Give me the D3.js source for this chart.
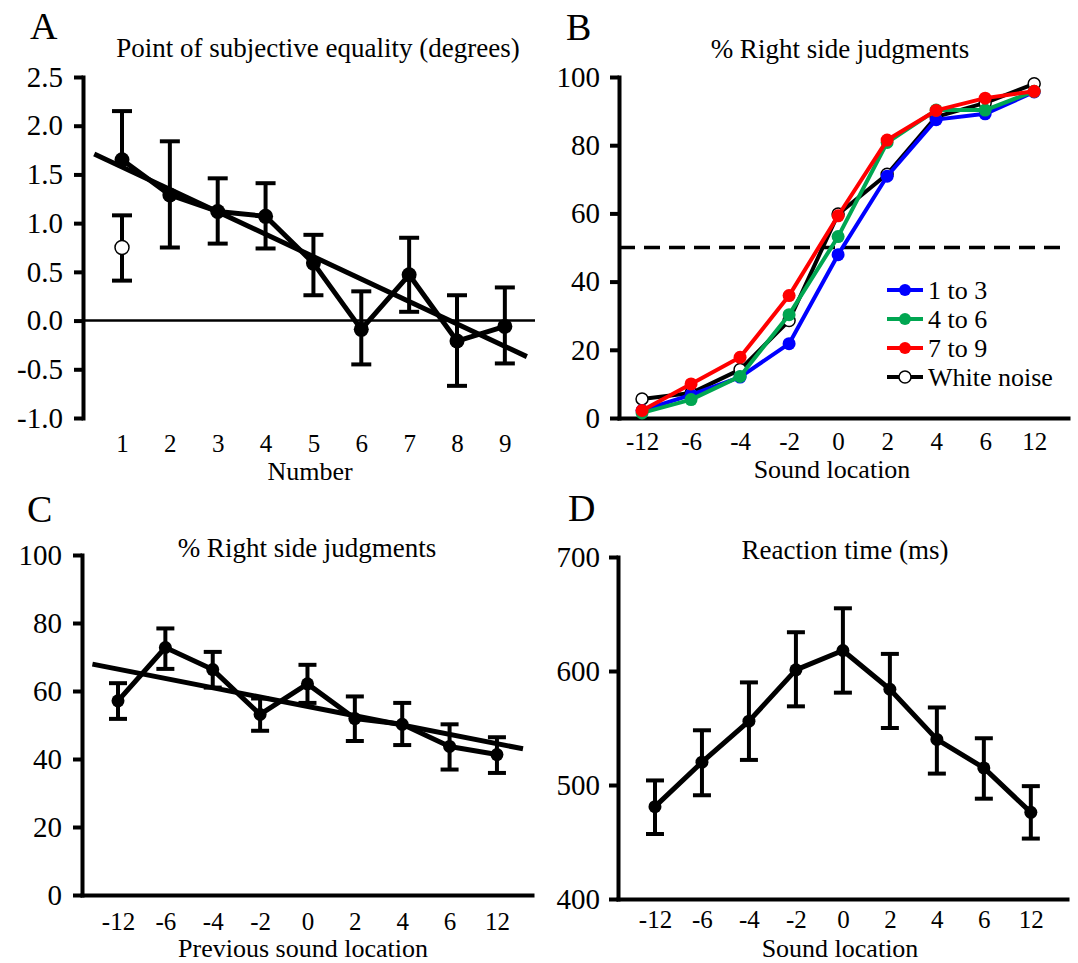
<!DOCTYPE html>
<html>
<head>
<meta charset="utf-8">
<script src="https://cdn.jsdelivr.net/npm/d3@7"></script>
</head>
<body style="margin:0;background:#fff">
<svg id="fig" width="1078" height="963"></svg>
<script>
// ---------- data ----------
// A: point of subjective equality by number
const numbers = [1, 2, 3, 4, 5, 6, 7, 8, 9];
const pseMean = [1.65, 1.29, 1.12, 1.07, 0.59, -0.09, 0.47, -0.21, -0.06];
const pseHi   = [2.15, 1.84, 1.46, 1.41, 0.88, 0.30, 0.85, 0.26, 0.34];
const pseLo   = [null, 0.75, 0.79, 0.74, 0.26, -0.45, 0.09, -0.67, -0.44];
const noiseX = [1], noiseMean = [0.75], noiseHi = [1.08], noiseLo = [0.41];
const pseFitX = [0.42, 9.46], pseFitY = [1.71, -0.37];
const pseTicks = [-1, -0.5, 0, 0.5, 1, 1.5, 2, 2.5];

// B: % right side judgments by sound location
const locations = ["-12", "-6", "-4", "-2", "0", "2", "4", "6", "12"];
const seriesNames  = ["1 to 3", "4 to 6", "7 to 9", "White noise"];
const seriesColors = ["#0000ff", "#00a651", "#ff0000", "#000000"];
const right1to3  = [2.2, 6.8, 12, 21.8, 47.9, 70.9, 87.5, 89.2, 95.6];
const right4to6  = [1.5, 5.4, 12.2, 30.3, 53.2, 80.8, 90.3, 90.3, 95.8];
const right7to9  = [2.2, 10, 17.8, 35.9, 59.3, 81.5, 90.2, 93.8, 95.8];
const rightNoise = [5.6, 7.3, 14.2, 28.6, 59.8, 71.5, 88.3, 92.4, 98];
const pctTicks = [0, 20, 40, 60, 80, 100];

// C: % right side judgments by previous sound location
const prevMean = [57.1, 72.8, 66.3, 53.1, 62.1, 51.9, 50.2, 43.7, 41.3];
const prevHi   = [62.3, 78.4, 71.5, 57.8, 67.7, 58.4, 56.5, 50.2, 46.4];
const prevLo   = [51.8, 66.5, 61.0, 48.3, 56.5, 45.3, 44.1, 36.9, 35.9];
const prevFitX = [-0.54, 8.55], prevFitY = [67.9, 43.0];

// D: reaction time by sound location
const rtMean = [481, 520, 556, 601, 618, 584, 540, 515, 476];
const rtHi   = [504, 548, 590, 634, 655, 615, 568, 541, 499];
const rtLo   = [457, 491, 522, 569, 581, 550, 510, 488, 453];
const rtTicks = [400, 500, 600, 700];

// ---------- helpers ----------
const FONT = '"Liberation Serif", "Times New Roman", serif';
const svg = d3.select("#fig").style("font-family", FONT);

function styleAxis(g, fontSize) {
  g.attr("font-family", null).attr("font-size", fontSize);
  g.selectAll("path.domain").attr("stroke-width", 4).attr("stroke-linecap", "square");
  g.selectAll(".tick line").attr("stroke-width", 4);
  g.selectAll(".tick text").attr("fill", "#000").style("font-family", FONT);
}

function label(text, x, y, size, anchor) {
  svg.append("text")
    .attr("x", x).attr("y", y)
    .attr("font-size", size)
    .attr("text-anchor", anchor || "middle")
    .style("font-family", FONT)
    .text(text);
}

function drawErrorBars(g, x, y, xs, mean, hi, lo, cap) {
  const rows = xs.map((v, i) => ({ x: v, m: mean[i], hi: hi[i], lo: lo[i] }));
  const eb = g.append("g").selectAll("g").data(rows).join("g")
    .attr("stroke", "#000").attr("stroke-width", 4);
  eb.append("line")
    .attr("x1", d => x(d.x)).attr("x2", d => x(d.x))
    .attr("y1", d => y(d.hi)).attr("y2", d => y(d.lo == null ? d.m : d.lo));
  eb.append("line")
    .attr("x1", d => x(d.x) - cap).attr("x2", d => x(d.x) + cap)
    .attr("y1", d => y(d.hi)).attr("y2", d => y(d.hi));
  eb.filter(d => d.lo != null).append("line")
    .attr("x1", d => x(d.x) - cap).attr("x2", d => x(d.x) + cap)
    .attr("y1", d => y(d.lo)).attr("y2", d => y(d.lo));
}

function drawLine(g, x, y, xs, ys, color, width) {
  g.append("path")
    .datum(xs.map((v, i) => [v, ys[i]]))
    .attr("fill", "none")
    .attr("stroke", color)
    .attr("stroke-width", width)
    .attr("stroke-linejoin", "round")
    .attr("d", d3.line().x(d => x(d[0])).y(d => y(d[1])));
}

function drawDots(g, x, y, xs, ys, r, fill, stroke) {
  g.append("g").selectAll("circle")
    .data(xs.map((v, i) => [v, ys[i]]))
    .join("circle")
    .attr("cx", d => x(d[0])).attr("cy", d => y(d[1]))
    .attr("r", r)
    .attr("fill", fill)
    .attr("stroke", stroke || "none")
    .attr("stroke-width", stroke ? 1.5 : 0);
}

const idx = locations.map((d, i) => i);

// ---------- panel A ----------
{
  const x = d3.scaleLinear().domain([0.185, 9.63]).range([83, 535]);
  const y = d3.scaleLinear().domain([-1, 2.5]).range([418, 77]);
  const g = svg.append("g");

  const ya = g.append("g").attr("transform", "translate(83,0)")
    .call(d3.axisLeft(y).tickValues(pseTicks).tickSize(9).tickSizeOuter(0).tickPadding(11)
      .tickFormat(d => d.toFixed(1)));
  styleAxis(ya, 29);

  const xa = g.append("g").attr("transform", "translate(0,418)")
    .call(d3.axisBottom(x).tickValues(numbers).tickSize(0).tickPadding(16).tickFormat(d => d));
  styleAxis(xa, 25);
  xa.select("path.domain").remove();

  g.append("line")
    .attr("x1", x.range()[0]).attr("x2", x.range()[1])
    .attr("y1", y(0)).attr("y2", y(0))
    .attr("stroke", "#000").attr("stroke-width", 2.5);

  drawErrorBars(g, x, y, numbers, pseMean, pseHi, pseLo, 10);
  drawErrorBars(g, x, y, noiseX, noiseMean, noiseHi, noiseLo, 10);
  drawLine(g, x, y, numbers, pseMean, "#000", 5);
  drawLine(g, x, y, pseFitX, pseFitY, "#000", 5);
  drawDots(g, x, y, numbers, pseMean, 7.5, "#000");
  drawDots(g, x, y, noiseX, noiseMean, 7, "#fff", "#000");

  label("A", 30, 39, 38, "start");
  label("Point of subjective equality (degrees)", 318, 57, 27);
  label("Number", 310, 480, 26);
}

// ---------- panel B ----------
{
  const x = d3.scaleLinear().domain([-0.47, 8.69]).range([619, 1068]);
  const y = d3.scaleLinear().domain([0, 100]).range([418, 77]);
  const g = svg.append("g");

  const ya = g.append("g").attr("transform", "translate(619,0)")
    .call(d3.axisLeft(y).tickValues(pctTicks).tickSize(9).tickSizeOuter(0).tickPadding(10));
  styleAxis(ya, 29);

  const xa = g.append("g").attr("transform", "translate(0,418)")
    .call(d3.axisBottom(x).tickValues(idx).tickSize(0).tickSizeOuter(0).tickPadding(14)
      .tickFormat(i => locations[i]));
  styleAxis(xa, 25);

  g.append("line")
    .attr("x1", x.range()[0]).attr("x2", x.range()[1])
    .attr("y1", y(50)).attr("y2", y(50))
    .attr("stroke", "#000").attr("stroke-width", 3.5)
    .attr("stroke-dasharray", "16 9");

  const series = [rightNoise, right1to3, right4to6, right7to9];
  const order = [3, 0, 1, 2];
  series.forEach((vals, k) => {
    const c = seriesColors[order[k]];
    drawLine(g, x, y, idx, vals, c, 4);
    if (order[k] === 3) drawDots(g, x, y, idx, vals, 6, "#fff", "#000");
    else drawDots(g, x, y, idx, vals, 6.5, c);
  });

  // legend
  const lg = g.append("g").selectAll("g").data(seriesNames).join("g")
    .attr("transform", (d, i) => `translate(887,${290 + i * 29})`);
  lg.append("line").attr("x1", 0).attr("x2", 36)
    .attr("stroke", (d, i) => seriesColors[i]).attr("stroke-width", 4);
  lg.append("circle").attr("cx", 18).attr("r", 6)
    .attr("fill", (d, i) => i === 3 ? "#fff" : seriesColors[i])
    .attr("stroke", (d, i) => i === 3 ? "#000" : "none")
    .attr("stroke-width", 1.5);
  lg.append("text").attr("x", 41).attr("dy", "0.35em")
    .attr("font-size", 26).style("font-family", FONT).text(d => d);

  label("B", 566, 40, 38, "start");
  label("% Right side judgments", 840, 58, 27);
  label("Sound location", 832, 478, 26);
}

// ---------- panel C ----------
{
  const x = d3.scaleLinear().domain([-0.76, 8.74]).range([82, 532]);
  const y = d3.scaleLinear().domain([0, 100]).range([895, 555]);
  const g = svg.append("g");

  const ya = g.append("g").attr("transform", "translate(82,0)")
    .call(d3.axisLeft(y).tickValues(pctTicks).tickSize(9).tickSizeOuter(0).tickPadding(11));
  styleAxis(ya, 29);

  const xa = g.append("g").attr("transform", "translate(0,895)")
    .call(d3.axisBottom(x).tickValues(idx).tickSize(0).tickSizeOuter(0).tickPadding(17)
      .tickFormat(i => locations[i]));
  styleAxis(xa, 25);

  drawErrorBars(g, x, y, idx, prevMean, prevHi, prevLo, 9);
  drawLine(g, x, y, idx, prevMean, "#000", 5);
  drawLine(g, x, y, prevFitX, prevFitY, "#000", 5);
  drawDots(g, x, y, idx, prevMean, 6.5, "#000");

  label("C", 27, 522, 38, "start");
  label("% Right side judgments", 307, 557, 27);
  label("Previous sound location", 303, 957, 26);
}

// ---------- panel D ----------
{
  const x = d3.scaleLinear().domain([-0.787, 8.77]).range([618, 1067]);
  const y = d3.scaleLinear().domain([400, 700]).range([899, 557]);
  const g = svg.append("g");

  const ya = g.append("g").attr("transform", "translate(618,0)")
    .call(d3.axisLeft(y).tickValues(rtTicks).tickSize(9).tickSizeOuter(0).tickPadding(9));
  styleAxis(ya, 29);

  const xa = g.append("g").attr("transform", "translate(0,899)")
    .call(d3.axisBottom(x).tickValues(idx).tickSize(0).tickSizeOuter(0).tickPadding(11)
      .tickFormat(i => locations[i]));
  styleAxis(xa, 25);

  drawErrorBars(g, x, y, idx, rtMean, rtHi, rtLo, 9);
  drawLine(g, x, y, idx, rtMean, "#000", 5);
  drawDots(g, x, y, idx, rtMean, 6.5, "#000");

  label("D", 568, 521, 38, "start");
  label("Reaction time (ms)", 845, 559, 27);
  label("Sound location", 840, 957, 26);
}
</script>
</body>
</html>
